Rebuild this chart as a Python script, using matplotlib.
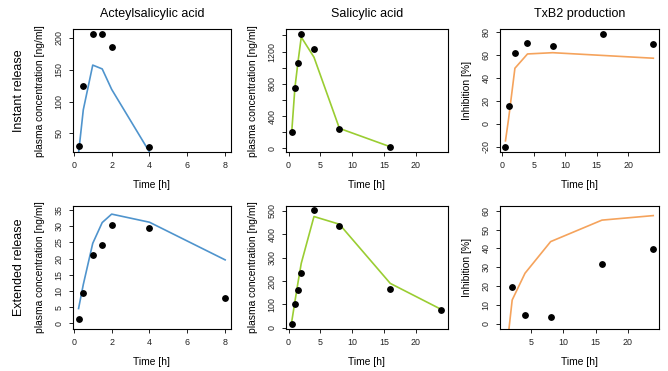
import matplotlib
matplotlib.use("Agg")
import matplotlib.pyplot as plt

plt.rcParams["font.family"] = ["Liberation Sans", "DejaVu Sans"]

# Acetylsalicylic acid [ng/ml]
asa_ir_time = [0.25, 0.5, 1, 1.5, 2, 4]
asa_ir_obs = [31, 124, 205, 205, 185, 29]
asa_ir_model = [19, 87, 157, 151, 119, 21]

asa_er_time = [0.25, 0.5, 1, 1.5, 2, 4, 8]
asa_er_obs = [1.3, 9.5, 21.1, 24.1, 30.4, 29.4, 7.7]
asa_er_model = [4.6, 12.0, 24.7, 31.1, 33.7, 31.2, 19.6]

# Salicylic acid [ng/ml]
sa_ir_time = [0.5, 1, 1.5, 2, 4, 8, 16]
sa_ir_obs = [202, 745, 1063, 1420, 1230, 236, 12]
sa_ir_model = [202, 750, 1080, 1379, 1130, 248, 20]

sa_er_time = [0.5, 1, 1.5, 2, 4, 8, 16, 24]
sa_er_obs = [16, 100, 163, 233, 503, 437, 164, 76]
sa_er_model = [26, 112, 196, 276, 476, 443, 190, 79]

# TxB2 inhibition [%]
txb_ir_time = [0.5, 1, 2, 4, 8, 16, 24]
txb_ir_obs = [-20.5, 15.7, 61.2, 69.9, 67.6, 78, 69.3]
txb_ir_model = [-14.8, 4.5, 48.2, 60.6, 61.7, 59.3, 56.9]

txb_er_obs_time = [2, 4, 8, 16, 24]
txb_er_obs = [19.3, 4.6, 3.7, 31.5, 39.6]
txb_er_model_time = [1, 2, 4, 8, 16, 24]
txb_er_model = [-18, 12.6, 26.8, 43.6, 55, 57.4]

col_titles = ["Acteylsalicylic acid", "Salicylic acid", "TxB2 production"]
row_titles = ["Instant release", "Extended release"]
y_titles = ["plasma concentration [ng/ml]", "plasma concentration [ng/ml]", "Inhibition [%]"]

W, H = 668, 371
COLS = [(72.7, 231), (286, 447.5), (500, 659)]
ROWS = [(29.3, 152), (206, 329)]
COLORS = ["#4f94cd", "#9acd32", "#f5a35c"]


def fx(px):
    return px / W


def fy(py):
    return 1 - py / H


def draw_panel(fig, row, col, t_obs, obs, t_mod, mod, xlim, ylim, xticks, yticks, ylabel_step=1):
    left, right = COLS[col]
    top, bottom = ROWS[row]
    ax = fig.add_axes([fx(left), fy(bottom), (right - left) / W, (bottom - top) / H])
    ax.plot(t_mod, mod, color=COLORS[col], lw=1.2, zorder=2)
    ax.plot(t_obs, obs, "o", color="black", ms=3.9, zorder=3)
    ax.set_xlim(xlim)
    ax.set_ylim(ylim)
    ax.set_xticks(xticks)
    ax.set_yticks(yticks)
    ax.set_yticklabels([str(v) if i % ylabel_step == 0 else "" for i, v in enumerate(yticks)])
    ax.tick_params(length=3.2, width=0.7, labelsize=6.4, pad=3.5, colors="#222222")
    ax.tick_params(axis="y", labelrotation=90)
    for lab in ax.get_yticklabels():
        lab.set_va("center")
    for sp in ax.spines.values():
        sp.set_linewidth(0.8)
    # axis titles
    fig.text(fx((left + right) / 2), fy(bottom + 33), "Time [h]", ha="center", va="center", fontsize=7.4)
    fig.text(fx(left - 33), fy((top + bottom) / 2), y_titles[col], ha="center", va="center",
             rotation=90, fontsize=7.4)
    return ax


fig = plt.figure(figsize=(6.68, 3.71), dpi=100)

draw_panel(fig, 0, 0, asa_ir_time, asa_ir_obs, asa_ir_time, asa_ir_model,
           (-0.06, 8.31), (21, 213), [0, 2, 4, 6, 8], [50, 100, 150, 200])
draw_panel(fig, 0, 1, sa_ir_time, sa_ir_obs, sa_ir_time, sa_ir_model,
           (-0.4, 25.0), (-45, 1476), [0, 5, 10, 15, 20], list(range(0, 1401, 200)), ylabel_step=2)
draw_panel(fig, 0, 2, txb_ir_time, txb_ir_obs, txb_ir_time, txb_ir_model,
           (-0.37, 24.9), (-24.5, 82), [0, 5, 10, 15, 20], [-20, 0, 20, 40, 60, 80])
draw_panel(fig, 1, 0, asa_er_time, asa_er_obs, asa_er_time, asa_er_model,
           (-0.06, 8.31), (-1.7, 36.2), [0, 2, 4, 6, 8], list(range(0, 36, 5)))
draw_panel(fig, 1, 1, sa_er_time, sa_er_obs, sa_er_time, sa_er_model,
           (-0.4, 25.0), (-5, 521), [0, 5, 10, 15, 20], list(range(0, 501, 100)))
draw_panel(fig, 1, 2, txb_er_obs_time, txb_er_obs, txb_er_model_time, txb_er_model,
           (0.1, 24.9), (-2.8, 62.5), [5, 10, 15, 20], list(range(0, 61, 10)))

for col, title in enumerate(col_titles):
    left, right = COLS[col]
    fig.text(fx((left + right) / 2), fy(14), title, ha="center", va="center", fontsize=9)

for row, title in enumerate(row_titles):
    top, bottom = ROWS[row]
    fig.text(fx(19), fy((top + bottom) / 2), title, ha="center", va="center", rotation=90, fontsize=9)

fig.savefig("out.png", dpi=100)
plt.close(fig)
